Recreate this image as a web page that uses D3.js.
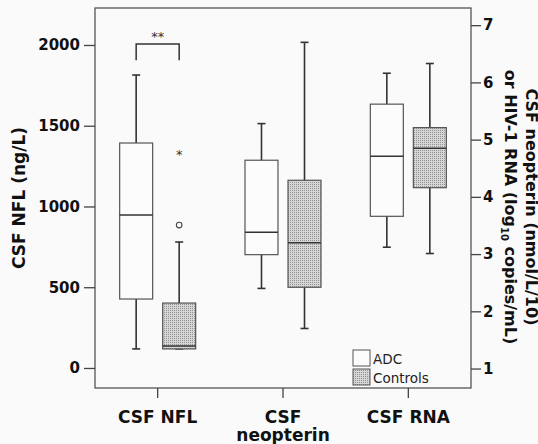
<!DOCTYPE html>
<html>
<head>
<meta charset="utf-8">
<script src="https://cdn.jsdelivr.net/npm/d3@7"></script>
<style>
  body { margin: 0; background: #fafafa; }
  svg { display: block; }
  .axis text { font-family: "DejaVu Sans", sans-serif; font-weight: bold; fill: #111; }
  .axis path { display: none; }
  .axis line { stroke: #444; stroke-width: 1.3px; }
</style>
</head>
<body>
<div id="chart"></div>
<script>
// categories and groups
const categories = ["CSF NFL", "CSF neopterin", "CSF RNA"];
const groups = ["ADC", "Controls"];

// box stats per category (NFL on left axis, neopterin and RNA on right axis)
const adcLow    = [118, 2.40, 3.12];
const adcQ1     = [427, 2.99, 3.66];
const adcMedian = [947, 3.38, 4.71];
const adcQ3     = [1393, 4.64, 5.62];
const adcHigh   = [1814, 5.28, 6.16];

const ctrlLow    = [118, 1.70, 3.01];
const ctrlQ1     = [118, 2.42, 4.16];
const ctrlMedian = [136, 3.20, 4.85];
const ctrlQ3     = [402, 4.29, 5.21];
const ctrlHigh   = [780, 6.70, 6.33];

// outliers of controls NFL
const nflOutliers = [885];
const nflExtremes = [1331];

// tick labels
const leftTicks = [0, 500, 1000, 1500, 2000];
const rightTicks = [1, 2, 3, 4, 5, 6, 7];

const W = 538, H = 444;
const plot = { left: 95, right: 471, top: 8, bottom: 388 };

const svg = d3.select("#chart").append("svg")
    .attr("width", W)
    .attr("height", H);

svg.append("rect").attr("width", W).attr("height", H).attr("fill", "#fafafa");

// stipple pattern for controls
const defs = svg.append("defs");
const pat = defs.append("pattern")
    .attr("id", "stipple")
    .attr("patternUnits", "userSpaceOnUse")
    .attr("width", 2).attr("height", 2);
pat.append("rect").attr("width", 2).attr("height", 2).attr("fill", "#d6d6d6");
pat.append("rect").attr("width", 1).attr("height", 1).attr("fill", "#929292");

// scales
const x = d3.scaleBand()
    .domain(categories)
    .range([plot.left, plot.right]);

const xInner = d3.scaleBand()
    .domain(groups)
    .range([-38, 38])
    .paddingInner(0.233);

const yLeft = d3.scaleLinear()
    .domain([-124, 2229])
    .range([plot.bottom, plot.top]);

const yRight = d3.scaleLinear()
    .domain([0.66, 7.30])
    .range([plot.bottom, plot.top]);

const yFor = i => i === 0 ? yLeft : yRight;

// build box records
const boxes = [];
categories.forEach((c, i) => {
    boxes.push({ cat: c, i, group: "ADC", low: adcLow[i], q1: adcQ1[i], med: adcMedian[i], q3: adcQ3[i], high: adcHigh[i] });
    boxes.push({ cat: c, i, group: "Controls", low: ctrlLow[i], q1: ctrlQ1[i], med: ctrlMedian[i], q3: ctrlQ3[i], high: ctrlHigh[i] });
});

const cx = d => x(d.cat) + x.bandwidth() / 2 + xInner(d.group) + xInner.bandwidth() / 2;
const bw = xInner.bandwidth();
const cap = 8;

// frame
svg.append("rect")
    .attr("x", plot.left).attr("y", plot.top)
    .attr("width", plot.right - plot.left)
    .attr("height", plot.bottom - plot.top)
    .attr("fill", "none")
    .attr("stroke", "#555")
    .attr("stroke-width", 1.3);

// whiskers
const g = svg.append("g");
boxes.forEach(d => {
    const y = yFor(d.i);
    const c = cx(d);
    g.append("line")
        .attr("x1", c).attr("x2", c)
        .attr("y1", y(d.high)).attr("y2", y(d.low))
        .attr("stroke", "#333").attr("stroke-width", 1.6);
    [d.high, d.low].forEach(v => {
        g.append("line")
            .attr("x1", c - cap / 2).attr("x2", c + cap / 2)
            .attr("y1", y(v)).attr("y2", y(v))
            .attr("stroke", "#333").attr("stroke-width", 1.6);
    });
});

// boxes
boxes.forEach(d => {
    const y = yFor(d.i);
    const c = cx(d);
    g.append("rect")
        .attr("x", c - bw / 2)
        .attr("y", y(d.q3))
        .attr("width", bw)
        .attr("height", y(d.q1) - y(d.q3))
        .attr("fill", d.group === "ADC" ? "#fcfcfc" : "url(#stipple)")
        .attr("stroke", "#555")
        .attr("stroke-width", 1.2);
    g.append("line")
        .attr("x1", c - bw / 2).attr("x2", c + bw / 2)
        .attr("y1", y(d.med)).attr("y2", y(d.med))
        .attr("stroke", "#333").attr("stroke-width", 1.5);
});

// outliers (controls, NFL)
const ctrlX = x(categories[0]) + x.bandwidth() / 2 + xInner("Controls") + xInner.bandwidth() / 2;
const adcX = x(categories[0]) + x.bandwidth() / 2 + xInner("ADC") + xInner.bandwidth() / 2;

g.selectAll(".outlier")
    .data(nflOutliers)
    .enter().append("circle")
    .attr("class", "outlier")
    .attr("cx", ctrlX)
    .attr("cy", d => yLeft(d))
    .attr("r", 2.8)
    .attr("fill", "none")
    .attr("stroke", "#444")
    .attr("stroke-width", 1.1);

g.selectAll(".extreme")
    .data(nflExtremes)
    .enter().append("text")
    .attr("class", "extreme")
    .attr("x", ctrlX)
    .attr("y", d => yLeft(d) + 6)
    .attr("text-anchor", "middle")
    .attr("font-family", "DejaVu Sans, sans-serif")
    .attr("font-size", "13px")
    .attr("fill", "#333")
    .text("*");

// significance bracket
const brTop = yLeft(2000) - 1, brLeg = yLeft(1905);
g.append("path")
    .attr("d", `M${adcX},${brLeg}V${brTop}H${ctrlX}V${brLeg}`)
    .attr("fill", "none")
    .attr("stroke", "#333")
    .attr("stroke-width", 1.5);
g.append("text")
    .attr("x", (adcX + ctrlX) / 2)
    .attr("y", brTop - 3)
    .attr("text-anchor", "middle")
    .attr("font-family", "DejaVu Sans, sans-serif")
    .attr("font-size", "13px")
    .attr("fill", "#333")
    .text("**");

// left axis
svg.append("g")
    .attr("class", "axis")
    .attr("transform", `translate(${plot.left},0)`)
    .call(d3.axisLeft(yLeft).tickValues(leftTicks).tickFormat(d3.format("d")).tickSize(11).tickPadding(4))
    .selectAll("text").attr("font-size", "15px");

// right axis
svg.append("g")
    .attr("class", "axis")
    .attr("transform", `translate(${plot.right},0)`)
    .call(d3.axisRight(yRight).tickValues(rightTicks).tickFormat(d3.format("d")).tickSize(10).tickPadding(2))
    .selectAll("text").attr("font-size", "15px");

// bottom axis
const xAxis = svg.append("g")
    .attr("class", "axis")
    .attr("transform", `translate(0,${plot.bottom})`)
    .call(d3.axisBottom(x).tickSize(10));
xAxis.selectAll("text").remove();
xAxis.selectAll(".tick").append("text")
    .attr("y", 35)
    .attr("text-anchor", "middle")
    .attr("font-size", "17px")
    .each(function(d) {
        const parts = d === "CSF neopterin" ? ["CSF", "neopterin"] : [d];
        const t = d3.select(this);
        parts.forEach((p, k) => {
            t.append("tspan").attr("x", 0).attr("dy", k === 0 ? 0 : 18).text(p);
        });
    });

// left title
svg.append("text")
    .attr("transform", `translate(25,${(plot.top + plot.bottom) / 2}) rotate(-90)`)
    .attr("text-anchor", "middle")
    .attr("font-family", "DejaVu Sans, sans-serif")
    .attr("font-weight", "bold")
    .attr("font-size", "17px")
    .attr("fill", "#111")
    .text("CSF NFL (ng/L)");

// right title (two lines)
svg.append("text")
    .attr("transform", `translate(526,207) rotate(90)`)
    .attr("text-anchor", "middle")
    .attr("font-family", "DejaVu Sans, sans-serif")
    .attr("font-weight", "bold")
    .attr("font-size", "16px")
    .attr("fill", "#111")
    .text("CSF neopterin (nmol/L/10)");

const rt2 = svg.append("text")
    .attr("transform", `translate(505,207) rotate(90)`)
    .attr("text-anchor", "middle")
    .attr("font-family", "DejaVu Sans, sans-serif")
    .attr("font-weight", "bold")
    .attr("font-size", "16px")
    .attr("fill", "#111");
rt2.append("tspan").text("or HIV-1 RNA (log");
rt2.append("tspan").attr("font-size", "10px").attr("dy", 4).text("10");
rt2.append("tspan").attr("dy", -4).text(" copies/mL)");

// legend
const legend = svg.append("g").attr("transform", "translate(353,350)");
groups.forEach((grp, k) => {
    legend.append("rect")
        .attr("x", 0).attr("y", k * 19)
        .attr("width", 17).attr("height", 16)
        .attr("fill", grp === "ADC" ? "#fcfcfc" : "url(#stipple)")
        .attr("stroke", "#555")
        .attr("stroke-width", 1);
    legend.append("text")
        .attr("x", 20).attr("y", k * 19 + 14)
        .attr("font-family", "DejaVu Sans, sans-serif")
        .attr("font-size", "13.5px")
        .attr("fill", "#222")
        .text(grp);
});
</script>
</body>
</html>
